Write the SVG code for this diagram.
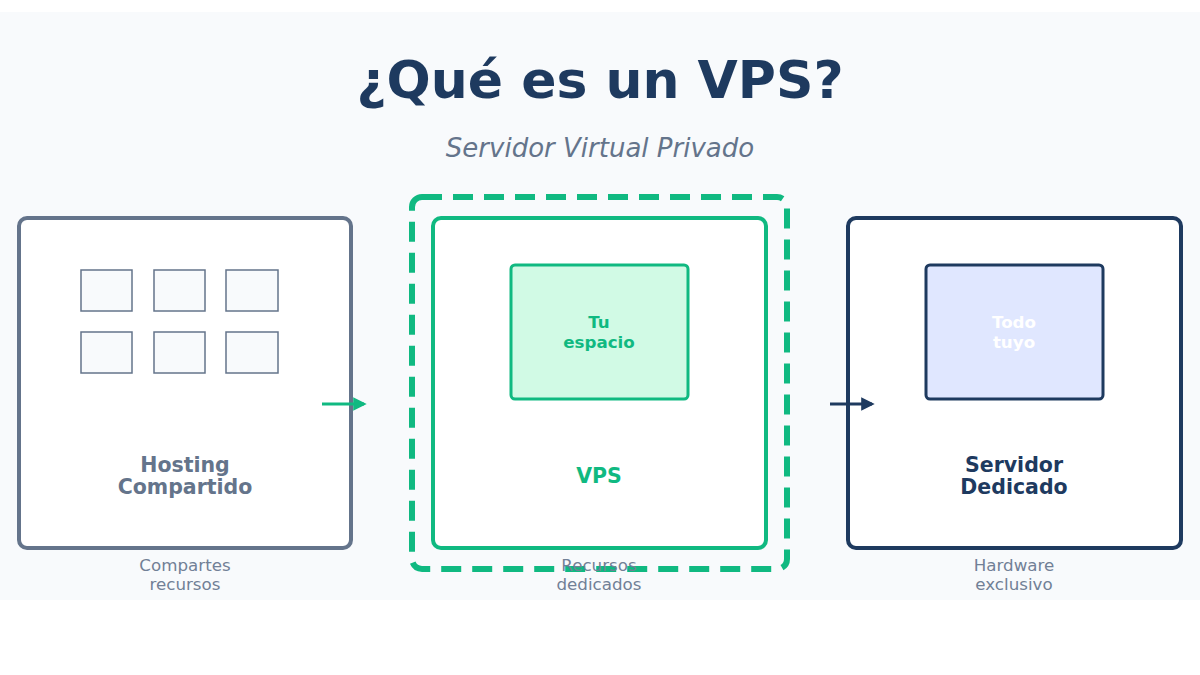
<svg xmlns="http://www.w3.org/2000/svg" width="1200" height="675" viewBox="0 0 1200 675">
<defs>
<style>
.t{font-family:"DejaVu Sans","Liberation Sans",sans-serif;text-anchor:middle}
.b{font-weight:bold}
.cap{font-size:16.7px;fill:#718096}
.cell{fill:#f8fafc;stroke:#64748b;stroke-width:1.5}
</style>
<marker id="ag" viewBox="0 0 10 10" refX="8" refY="5" markerWidth="4.5" markerHeight="4.5" orient="auto"><path d="M0,0 L10,5 L0,10 z" fill="#10b981"/></marker>
<marker id="an" viewBox="0 0 10 10" refX="8" refY="5" markerWidth="4.5" markerHeight="4.5" orient="auto"><path d="M0,0 L10,5 L0,10 z" fill="#1e3a5f"/></marker>
</defs>
<rect width="1200" height="675" fill="#ffffff"/>
<rect x="0" y="12" width="1200" height="588" fill="#f8fafc"/>
<g id="title">
<text class="t b" x="600" y="98" font-size="52" fill="#1e3a5f">¿Qué es un VPS?</text>
<text class="t" x="600" y="157" font-size="26" font-style="italic" fill="#64748b">Servidor Virtual Privado</text>
</g>
<g id="shared">
<rect x="19" y="218" width="332" height="330" rx="8" fill="#ffffff" stroke="#64748b" stroke-width="4"/>
<rect class="cell" x="81" y="270" width="51" height="41"/>
<rect class="cell" x="154" y="270" width="51" height="41"/>
<rect class="cell" x="226" y="270" width="52" height="41"/>
<rect class="cell" x="81" y="332" width="51" height="41"/>
<rect class="cell" x="154" y="332" width="51" height="41"/>
<rect class="cell" x="226" y="332" width="52" height="41"/>
<text class="t b" x="185" y="472" font-size="20.5" fill="#64748b">Hosting</text>
<text class="t b" x="185" y="494" font-size="20.5" fill="#64748b">Compartido</text>
<text class="t cap" x="185" y="571">Compartes</text>
<text class="t cap" x="185" y="590">recursos</text>
</g>
<g id="vps">
<rect x="412" y="197" width="375" height="372" rx="10" fill="none" stroke="#10b981" stroke-width="6" stroke-dasharray="20 11"/>
<rect x="433" y="218" width="333" height="330" rx="8" fill="#ffffff" stroke="#10b981" stroke-width="4"/>
<rect x="511" y="265" width="177" height="134" rx="4" fill="#d1fae5" stroke="#10b981" stroke-width="3"/>
<text class="t b" x="599" y="328" font-size="16.7" fill="#10b981">Tu</text>
<text class="t b" x="599" y="348" font-size="16.7" fill="#10b981">espacio</text>
<text class="t b" x="599" y="483" font-size="20.5" fill="#10b981">VPS</text>
<text class="t cap" x="599" y="571">Recursos</text>
<text class="t cap" x="599" y="590">dedicados</text>
</g>
<g id="dedicated">
<rect x="848" y="218" width="333" height="330" rx="8" fill="#ffffff" stroke="#1e3a5f" stroke-width="4"/>
<rect x="926" y="265" width="177" height="134" rx="4" fill="#e0e7ff" stroke="#1e3a5f" stroke-width="3"/>
<text class="t b" x="1014" y="328" font-size="16.7" fill="#ffffff">Todo</text>
<text class="t b" x="1014" y="348" font-size="16.7" fill="#ffffff">tuyo</text>
<text class="t b" x="1014" y="472" font-size="20.5" fill="#1e3a5f">Servidor</text>
<text class="t b" x="1014" y="494" font-size="20.5" fill="#1e3a5f">Dedicado</text>
<text class="t cap" x="1014" y="571">Hardware</text>
<text class="t cap" x="1014" y="590">exclusivo</text>
</g>
<g id="connectors">
<line x1="322" y1="404" x2="364" y2="404" stroke="#10b981" stroke-width="3" marker-end="url(#ag)"/>
<line x1="830" y1="404" x2="872" y2="404" stroke="#1e3a5f" stroke-width="3" marker-end="url(#an)"/>
</g>
</svg>
